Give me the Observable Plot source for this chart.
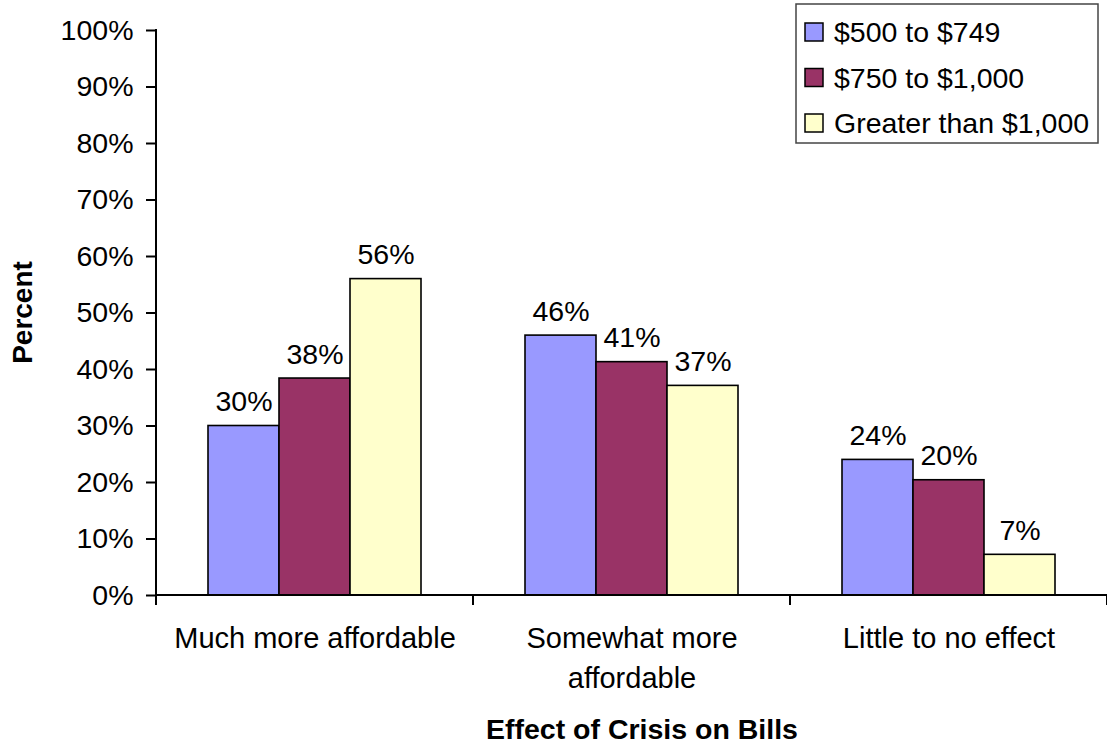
<!DOCTYPE html>
<html><head><meta charset="utf-8">
<script src="https://cdn.jsdelivr.net/npm/d3@7"></script>
<script src="https://cdn.jsdelivr.net/npm/@observablehq/plot@0.6"></script>
<style>
html,body{margin:0;padding:0;background:#fff;overflow:hidden}
svg{font-family:"Liberation Sans",Arial,sans-serif}
</style></head><body><div id="chart"></div>
<script>
const categories = ["Much more affordable", "Somewhat more affordable", "Little to no effect"];
const seriesNames = ["$500 to $749", "$750 to $1,000", "Greater than $1,000"];
const seriesColors = ["#9999FF", "#993366", "#FFFFCC"];
const values500to749 = [30.0, 46.0, 24.0];
const values750to1000 = [38.4, 41.3, 20.4];
const valuesOver1000 = [56.0, 37.1, 7.2];
const yTicks = [0, 10, 20, 30, 40, 50, 60, 70, 80, 90, 100];
const xTitle = "Effect of Crisis on Bills";
const yTitle = "Percent";

const seriesValues = [values500to749, values750to1000, valuesOver1000];
const data = [];
categories.forEach((c, i) => seriesNames.forEach((s, j) => data.push({category: c, series: s, value: seriesValues[j][i]})));

const FONT = '"Liberation Sans", Arial, sans-serif';
const FS = 28;
const pct = d => Math.round(d) + "%";

const plot = Plot.plot({
  width: 1107, height: 743,
  marginLeft: 155, marginRight: 0, marginTop: 30, marginBottom: 148,
  style: {fontFamily: FONT, fontSize: FS + "px", color: "#000", background: "#fff", overflow: "visible"},
  fx: {domain: categories, padding: 0, label: null},
  x: {domain: seriesNames, paddingInner: 0, paddingOuter: 0.73, axis: null},
  y: {domain: [0, 100], label: null},
  color: {domain: seriesNames, range: seriesColors},
  marks: [
    Plot.barY(data, {fx: "category", x: "series", y: "value", fill: "series", stroke: "#000", strokeWidth: 1.6}),
    Plot.text(data, {fx: "category", x: "series", y: "value", text: d => pct(d.value), lineAnchor: "bottom", dy: -15, fontSize: 28.5, fill: "#000"}),
    Plot.axisY({ticks: yTicks, tickFormat: pct, tickSize: 10, tickPadding: 13, strokeWidth: 2, label: null, fontSize: 28.5}),
    Plot.axisFx({anchor: "bottom", tickSize: 0, tickPadding: 24, lineWidth: 11, lineHeight: 1.38, fontSize: 29, label: null})
  ]
});
document.getElementById("chart").appendChild(plot);

const svg = d3.select(plot);
const fx = plot.scale("fx"), y = plot.scale("y"), color = plot.scale("color");
const y0 = y.apply(0), y1 = y.apply(100);
const xStart = fx.apply(categories[0]);
const xEnd = fx.apply(categories[categories.length - 1]) + fx.bandwidth;
const g = svg.append("g").attr("stroke", "#000").attr("stroke-width", 2);
g.append("line").attr("x1", xStart).attr("x2", xStart).attr("y1", y1 - 1).attr("y2", y0 + 1);
g.append("line").attr("x1", xStart).attr("x2", xEnd).attr("y1", y0).attr("y2", y0);
categories.concat([null]).forEach((c, i) => {
  const xx = c === null ? xEnd : fx.apply(c);
  g.append("line").attr("x1", xx).attr("x2", xx).attr("y1", y0).attr("y2", y0 + 10);
});

svg.append("text").text(xTitle)
  .attr("x", 642).attr("y", 729).attr("text-anchor", "middle").attr("dominant-baseline", "central")
  .attr("font-weight", "bold").attr("font-size", 28.5).attr("font-family", FONT);
svg.append("text").text(yTitle)
  .attr("transform", `translate(22,${(y0 + y1) / 2}) rotate(-90)`)
  .attr("text-anchor", "middle").attr("dominant-baseline", "central")
  .attr("font-weight", "bold").attr("font-size", 28).attr("font-family", FONT);

const lg = svg.append("g");
lg.append("rect").attr("x", 796).attr("y", 4).attr("width", 302).attr("height", 139)
  .attr("fill", "#fff").attr("stroke", "#444").attr("stroke-width", 1.5);
seriesNames.forEach((s, i) => {
  const cy = 32 + i * 45.5;
  lg.append("rect").attr("x", 805).attr("y", cy - 9).attr("width", 18).attr("height", 18)
    .attr("fill", color.apply(s)).attr("stroke", "#000").attr("stroke-width", 1.5);
  lg.append("text").text(s).attr("x", 834).attr("y", cy).attr("dominant-baseline", "central")
    .attr("text-anchor", "start")
    .attr("font-size", 28.5).attr("font-family", FONT);
});
</script></body></html>
